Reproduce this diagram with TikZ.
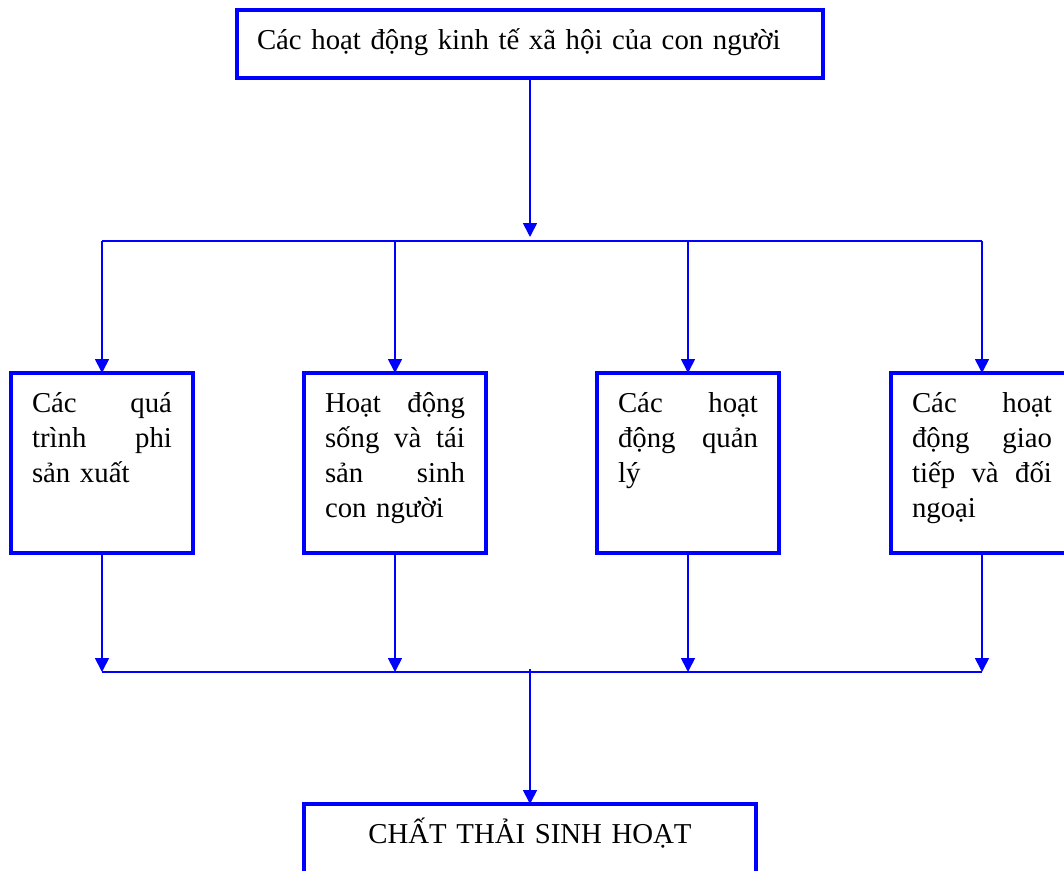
\documentclass[tikz,border=0pt]{standalone}
\usepackage{fontspec}
\setmainfont{Liberation Serif}
\usepackage{xcolor}
\usetikzlibrary{arrows.meta}

\begin{document}
\begin{tikzpicture}[x=0.75pt,y=-0.75pt]
  \tikzstyle{box} = [draw=blue,line width=2.4pt,inner sep=0pt,outer sep=0pt,font=\fontsize{21.6pt}{26.25pt}\selectfont]
  \tikzstyle{source} = [box,anchor=north,text width=409.5pt,align=left,inner xsep=15pt,inner ysep=7.5pt,text height=21.75pt,text depth=14.25pt]
  \tikzstyle{activity} = [box,anchor=north,text width=105pt,align=left,inner xsep=15.75pt,inner ysep=7.5pt,text height=21.75pt,text depth=98.25pt]
  \tikzstyle{waste} = [box,anchor=north,text width=339pt,align=center,inner xsep=0pt,inner ysep=7.5pt,text height=21.75pt,text depth=60pt]
  \tikzstyle{link} = [draw=blue,line width=1.3pt]
  \tikzstyle{flow} = [link,-{Triangle[length=10.5pt,width=10.5pt]}]
  %
  \useasboundingbox (0,0) rectangle (1064,871);
  % Top box.
  \node[source] (hoatdong) at (530,10) {Các hoạt động kinh tế xã hội của con người};
  \coordinate (split) at (530,241);
  \coordinate (join) at (530,672);

  % Middle row.
  \node[activity] (qtrinh) at (102,373) {Các\hfill quá\\ trình\hfill phi\\ sản xuất};
  \node[activity] (sinhsan) at (395,373) {Hoạt\hfill động\\ sống\hfill và\hfill tái\\ sản\hfill sinh\\ con người};
  \node[activity] (quanly) at (688,373) {Các\hfill hoạt\\ động\hfill quản\\ lý};
  \node[activity] (giaotiep) at (982,373) {Các\hfill hoạt\\ động\hfill giao\\ tiếp\hfill và\hfill đối\\ ngoại};

  % Bottom box.
  \node[waste] (chatthai) at (530,804) {CHẤT THẢI SINH HOẠT};

  % Draw lines.
  \draw[flow,shorten >=3pt] (hoatdong) -- (split);
  \draw[link] (qtrinh.north |- split) -- (giaotiep.north |- split);
  \draw[link] (qtrinh.south |- join) -- (giaotiep.south |- join);
  \foreach \n in {qtrinh,sinhsan,quanly,giaotiep} {
    \draw[flow] (\n.north |- split) -- (\n);
    \draw[flow] (\n) -- (\n.south |- join);
  }
  \draw[flow] ([yshift=2pt]join) -- (chatthai);
  %
\end{tikzpicture}
\end{document}
